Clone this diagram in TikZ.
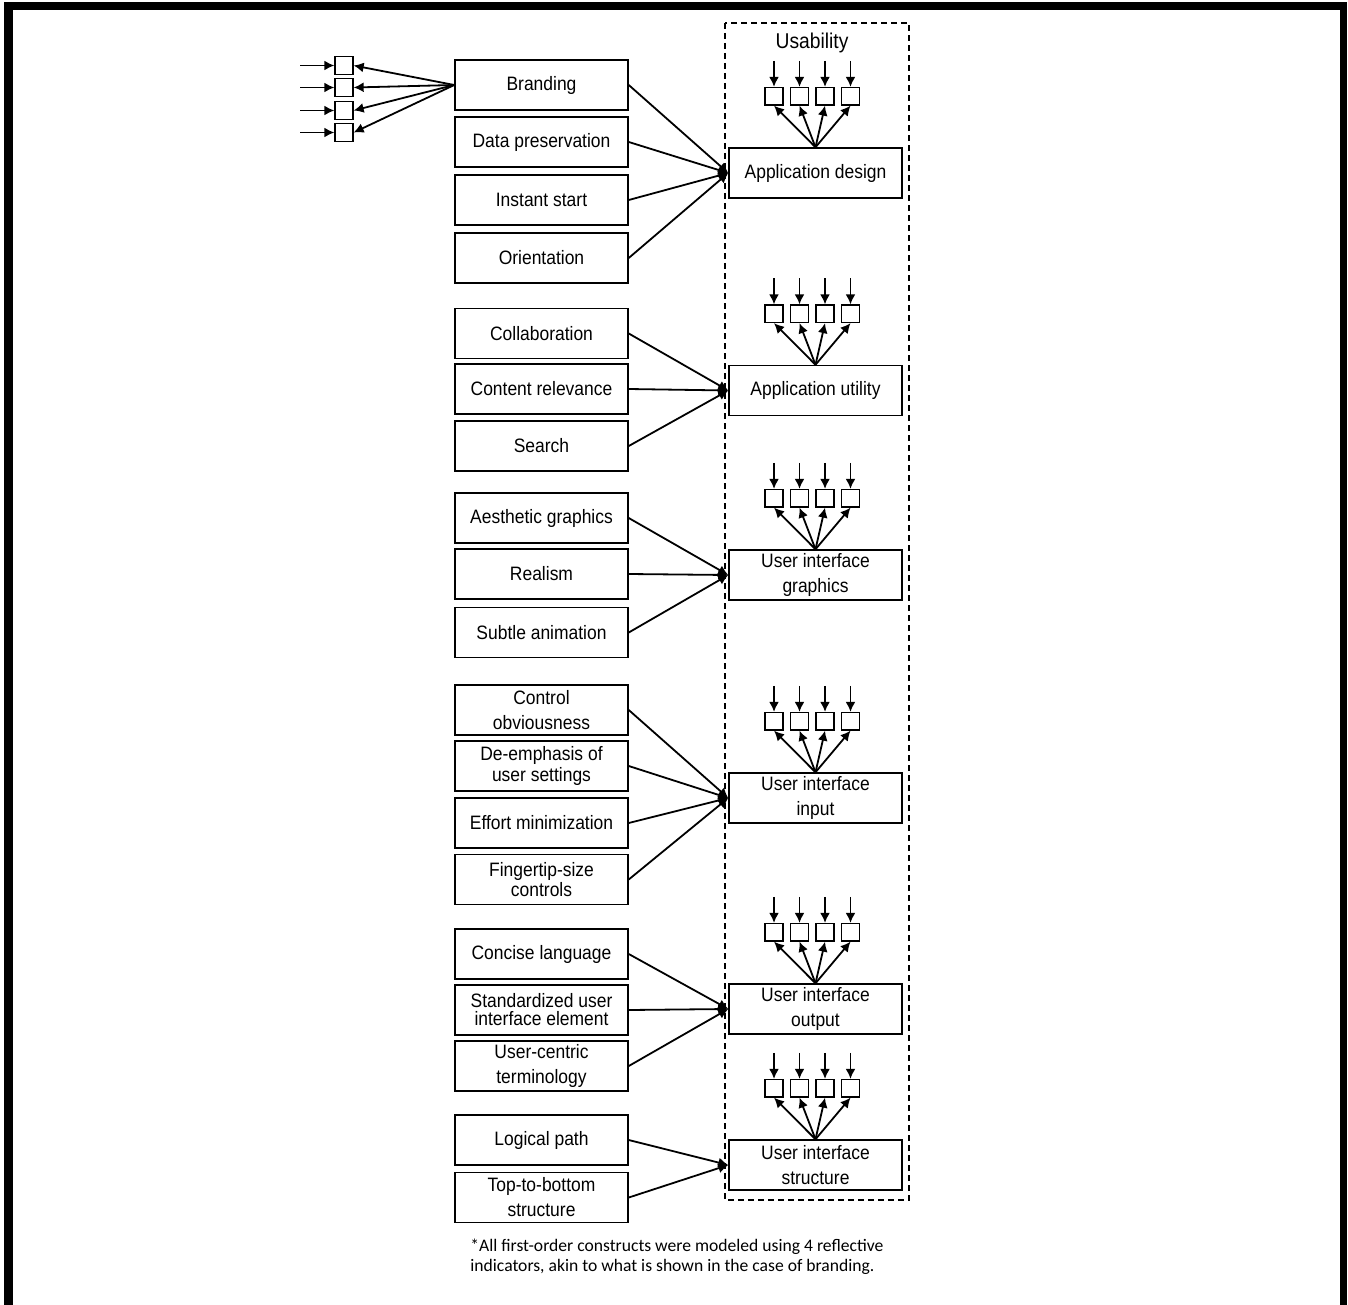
\documentclass[tikz,border=0pt]{standalone}
\usepackage{fontspec}
\setmainfont{Liberation Sans}[FakeStretch=0.9]
\newfontfamily\notefont{Carlito}
\usepackage{tikz}
\usetikzlibrary{arrows.meta,calc}

\tikzset{
  construct/.style={draw, line width=0.75pt, minimum width=86.5pt, minimum height=25pt,
    inner sep=1pt, align=center, font=\fontsize{9.7}{12.5}\selectfont},
  tight/.style={font=\fontsize{9.7}{9}\selectfont},
  indicator/.style={draw, line width=0.65pt, minimum width=9pt, minimum height=8.75pt, inner sep=0pt},
  link/.style={line width=0.9pt, -{Latex[length=5pt,width=5pt]}},
  note/.style={align=left, inner sep=0pt, font=\notefont\fontsize{8.8}{10}\selectfont},
}

\begin{document}
\begin{tikzpicture}[x=0.5pt, y=-0.5pt]
		\useasboundingbox (0,0) rectangle (1348,1305);
		\fill (4,2) rectangle (13,1305);
		\fill (4,2) rectangle (1347,10);
		\fill (1340,2) rectangle (1347,1305);

		\node[construct] (brand) at (541.5,85) {Branding};
		\node[construct] (datapres) at (541.5,142) {Data preservation};
		\node[construct] (instant) at (541.5,200) {Instant start};
		\node[construct] (orient) at (541.5,258) {Orientation};
		\node[construct] (collab) at (541.5,333.5) {Collaboration};
		\node[construct] (content) at (541.5,389) {Content relevance};
		\node[construct] (search) at (541.5,446) {Search};
		\node[construct] (aesth) at (541.5,518) {Aesthetic graphics};
		\node[construct] (realism) at (541.5,574) {Realism};
		\node[construct] (subtle) at (541.5,632.5) {Subtle animation};
		\node[construct] (ctrlobv) at (541.5,710) {Control\\obviousness};
		\node[construct, tight] (deemph) at (541.5,766) {De-emphasis of\\user settings};
		\node[construct] (effort) at (541.5,823) {Effort minimization};
		\node[construct, tight] (finger) at (541.5,879.5) {Fingertip-size\\controls};
		\node[construct] (concise) at (541.5,954) {Concise language};
		\node[construct, tight] (stdui) at (541.5,1010) {Standardized user\\interface element};
		\node[construct] (usercent) at (541.5,1066) {User-centric\\terminology};
		\node[construct] (logpath) at (541.5,1140) {Logical path};
		\node[construct] (toptobot) at (541.5,1197.5) {Top-to-bottom\\structure};

		\node[construct] (design) at (815.5,173) {Application design};
		\node[construct] (utility) at (815.5,390.5) {Application utility};
		\node[construct] (graphics) at (815.5,575) {User interface\\graphics};
		\node[construct] (input) at (815.5,798) {User interface\\input};
		\node[construct] (output) at (815.5,1009) {User interface\\output};
		\node[construct] (structure) at (815.5,1165) {User interface\\structure};

		\node[font=\fontsize{10.7}{12}\selectfont] (usab) at (812,43) {Usability};
		\draw[line width=1pt, dash pattern=on 3pt off 2pt] (725,23) rectangle (909,1200);

		\foreach \i/\y in {1/65.5,2/87.5,3/110.5,4/132.5}{
			\node[indicator] (brand-\i) at (344,\y) {};
			\coordinate (brand-in-\i) at (300,\y);
			\draw[link] (brand-in-\i) -- (brand-\i);
			\draw[link] (brand.west) -- (brand-\i.east);
		}

		\foreach \c in {design,utility,graphics,input,output,structure}{
			\foreach \i/\dx in {1/-41.5,2/-16,3/9.5,4/35}{
				\node[indicator] (\c-\i) at ($(\c.north)+(\dx,-51)$) {};
				\coordinate (\c-in-\i) at ($(\c-\i.north)+(0,-26)$);
				\draw[link] (\c-in-\i) -- (\c-\i);
				\draw[link] (\c.north) -- (\c-\i.south);
			}
		}

		\draw[link] (brand.east) to (design.west);
		\draw[link] (datapres.east) to (design.west);
		\draw[link] (instant.east) to (design.west);
		\draw[link] (orient.east) to (design.west);
		\draw[link] (collab.east) to (utility.west);
		\draw[link] (content.east) to (utility.west);
		\draw[link] (search.east) to (utility.west);
		\draw[link] (aesth.east) to (graphics.west);
		\draw[link] (realism.east) to (graphics.west);
		\draw[link] (subtle.east) to (graphics.west);
		\draw[link] (ctrlobv.east) to (input.west);
		\draw[link] (deemph.east) to (input.west);
		\draw[link] (effort.east) to (input.west);
		\draw[link] (finger.east) to (input.west);
		\draw[link] (concise.east) to (output.west);
		\draw[link] (stdui.east) to (output.west);
		\draw[link] (usercent.east) to (output.west);
		\draw[link] (logpath.east) to (structure.west);
		\draw[link] (toptobot.east) to (structure.west);

		\node[note, anchor=west] (note) at (470,1257) {*All first-order constructs were modeled using 4 reflective\\indicators, akin to what is shown in the case of branding.};
\end{tikzpicture}
\end{document}
